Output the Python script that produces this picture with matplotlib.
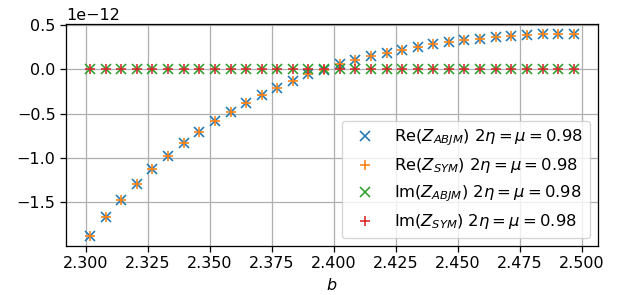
import numpy as np
import matplotlib
matplotlib.use("Agg")
import matplotlib.pyplot as plt

b = [2.3018, 2.3081, 2.3144, 2.3207, 2.3269, 2.3332, 2.3395, 2.3458,
     2.3521, 2.3584, 2.3647, 2.3710, 2.3772, 2.3835, 2.3898, 2.3961,
     2.4024, 2.4087, 2.4150, 2.4213, 2.4276, 2.4338, 2.4401, 2.4464,
     2.4527, 2.4590, 2.4653, 2.4716, 2.4779, 2.4842, 2.4905, 2.4968]

re_abjm = [-1.886, -1.674, -1.478, -1.297, -1.131, -0.978, -0.837, -0.706,
           -0.588, -0.480, -0.381, -0.287, -0.208, -0.129, -0.053, -0.003,
           0.058, 0.111, 0.153, 0.190, 0.226, 0.256, 0.286, 0.309,
           0.331, 0.348, 0.365, 0.379, 0.388, 0.397, 0.400, 0.406]
re_sym = list(re_abjm)
im_abjm = [0.0] * 32
im_sym = [0.0] * 32

labels = [r"Re($Z_{ABJM}$) $2\eta=\mu=0.98$",
          r"Re($Z_{SYM}$) $2\eta=\mu=0.98$",
          r"Im($Z_{ABJM}$) $2\eta=\mu=0.98$",
          r"Im($Z_{SYM}$) $2\eta=\mu=0.98$"]

s = 1.15
plt.rcParams.update({
    "font.size": 10 * s,
    "axes.linewidth": 0.8 * s,
    "xtick.major.width": 0.8 * s,
    "ytick.major.width": 0.8 * s,
    "xtick.major.size": 3.5 * s,
    "ytick.major.size": 3.5 * s,
    "grid.linewidth": 0.8 * s,
    "lines.markersize": 6 * s,
    "lines.markeredgewidth": 1.0 * s,
})

fig = plt.figure(figsize=(6.19, 2.95), dpi=100)
ax = fig.add_axes([66 / 619, 1 - 246 / 295, (598 - 66) / 619, (246 - 24) / 295])

scale = 1e-12
ax.plot(b, np.array(re_abjm) * scale, "x", color="C0", linestyle="none", label=labels[0])
ax.plot(b, np.array(re_sym) * scale, "+", color="C1", linestyle="none", label=labels[1])
ax.plot(b, np.array(im_abjm) * scale, "x", color="C2", linestyle="none", label=labels[2])
ax.plot(b, np.array(im_sym) * scale, "+", color="C3", linestyle="none", label=labels[3])

ax.set_xticks([2.300, 2.325, 2.350, 2.375, 2.400, 2.425, 2.450, 2.475, 2.500])
ax.set_ylim(-1.998e-12, 0.515e-12)
ax.set_xlabel(r"$b$")
ax.grid(True)
ax.legend(loc="lower right", fontsize=11.8)

fig.savefig("out.png", dpi=100)
